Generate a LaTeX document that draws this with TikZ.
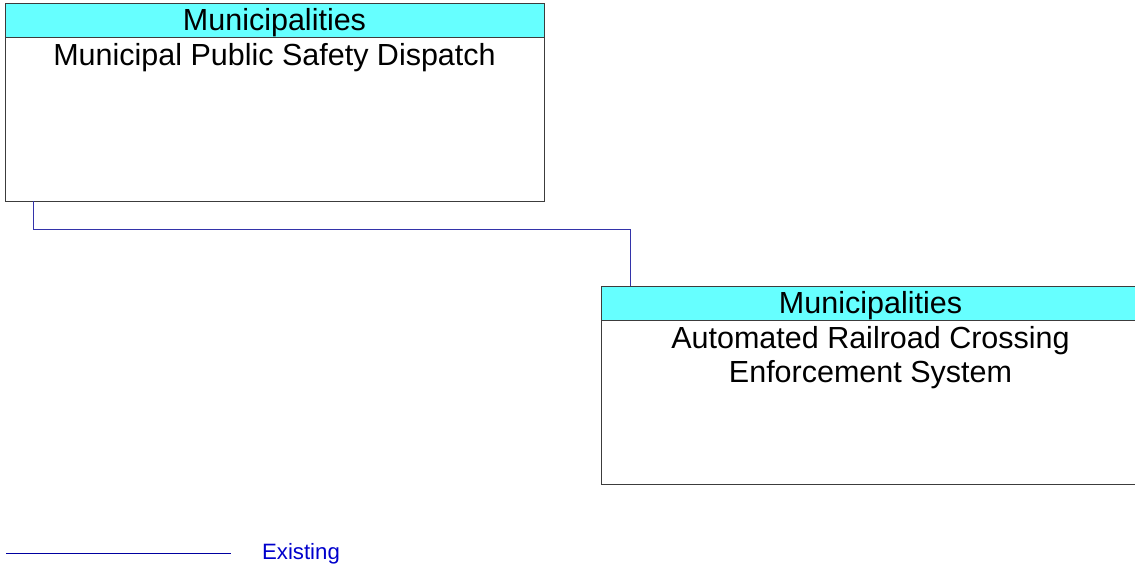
\documentclass[tikz,border=0pt]{standalone}
\usepackage{fontspec}
\setmainfont{Liberation Sans}
\definecolor{headcyan}{RGB}{102, 255, 255}
\definecolor{boxgray}{RGB}{60, 60, 60}
\definecolor{linkblue}{RGB}{51, 51, 170}
\definecolor{legendblue}{RGB}{0, 0, 160}
\definecolor{textblue}{RGB}{0, 0, 204}
\usetikzlibrary{positioning}

\begin{document}
\begin{tikzpicture}[x=0.5pt, y=-0.5pt,
    header/.style={rectangle, draw=boxgray, line width=0.5pt, fill=headcyan, minimum width=269.5pt, minimum height=17pt, inner sep=0pt, outer sep=0pt, text depth=1pt, font=\fontsize{15.25}{17}\selectfont},
    body/.style={rectangle, draw=boxgray, line width=0.5pt, fill=white, minimum width=269.5pt, minimum height=82pt, inner sep=0pt, outer sep=0pt},
    boxtext/.style={align=center, inner sep=3pt, font=\fontsize{15.25}{17}\selectfont},
    link/.style={draw=linkblue, line width=0.5pt}]
    \clip (0,0) rectangle (1135,569);
    % Municipal Public Safety Dispatch
    \node[header] (dispatchhead) at (274.5,20) {Municipalities};
    \node[body, below=0pt of dispatchhead] (dispatch) {};
    \node[boxtext, below=0pt of dispatchhead] (dispatchname) {Municipal Public Safety Dispatch};
    % Automated Railroad Crossing Enforcement System
    \node[header] (railhead) at (870.5,303) {Municipalities};
    \node[body, below=0pt of railhead] (rail) {};
    \node[boxtext, below=0pt of railhead] (railname) {Automated Railroad Crossing\\Enforcement System};
    % flow
    \draw[link] ([xshift=14pt]dispatch.south west) -- ++(0,-14pt) -| ([xshift=14.5pt]railhead.north west);
    % legend
    \coordinate (legstart) at (6,553);
    \coordinate (legend) at (231,553);
    \draw[draw=legendblue, line width=0.5pt] (legstart) -- (legend);
    \node[text=textblue, font=\fontsize{11.1}{13}\selectfont] (existing) at (301,554) {Existing};
\end{tikzpicture}
\end{document}
